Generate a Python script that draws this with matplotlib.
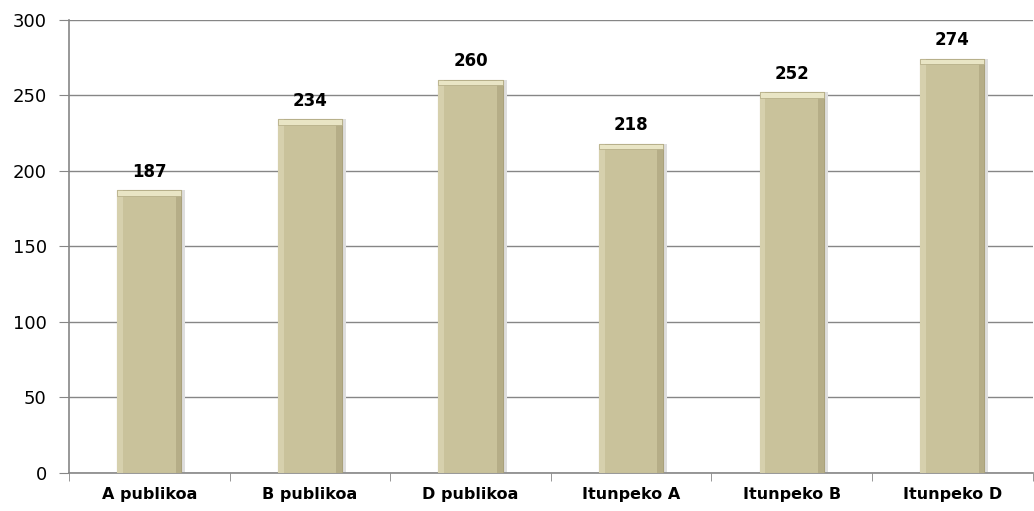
import matplotlib.pyplot as plt
import numpy as np

categories = ['A publikoa', 'B publikoa', 'D publikoa', 'Itunpeko A', 'Itunpeko B', 'Itunpeko D']
values = [187, 234, 260, 218, 252, 274]

fig = plt.figure(figsize=(10.34, 5.11), dpi=100)
ax = fig.add_axes([0.0667, 0.0744, 0.932, 0.887])

x = np.arange(len(categories))
w = 0.40

# soft shadow behind the bars
ax.bar(x + 0.025, values, width=w, color='#dedede', zorder=2)
# main bars
ax.bar(x, values, width=w, color='#c9c29b', edgecolor='#a9a17b', linewidth=0.8, zorder=3)
# side strips for a bevel look
ax.bar(x - w / 2 + 0.018, values, width=0.036, color='#d6d0ad', zorder=4)
ax.bar(x + w / 2 - 0.018, values, width=0.036, color='#b5ad87', zorder=4)
# top cap
ax.bar(x, [3.5] * len(values), bottom=np.array(values) - 3.5, width=w, color='#e9e5c5',
       edgecolor='#b0a882', linewidth=0.5, zorder=5)

for xi, v in zip(x, values):
    ax.annotate(str(v), (xi, v), xytext=(0, 7), textcoords='offset points',
                ha='center', va='bottom', fontsize=12, fontweight='bold',
                family='DejaVu Sans', zorder=6)

ax.set_ylim(0, 300)
ax.set_yticks(range(0, 301, 50))
ax.set_xlim(-0.5, len(categories) - 0.5)
ax.set_xticks(x)
ax.set_xticklabels(categories, fontsize=11.5, fontweight='bold', family='DejaVu Sans')
ax.set_xticks(np.arange(-0.5, len(categories), 1), minor=True)
ax.tick_params(axis='x', which='major', length=0, pad=10)
ax.tick_params(axis='x', which='minor', length=6, color='#868686', direction='out')
ax.tick_params(axis='y', length=7, color='#868686', labelsize=13, pad=9)

ax.yaxis.grid(True, color='#868686', linewidth=1)
ax.set_axisbelow(True)
for s in ['top', 'right']:
    ax.spines[s].set_visible(False)
for s in ['left', 'bottom']:
    ax.spines[s].set_color('#868686')
    ax.spines[s].set_linewidth(1.2)

fig.savefig('out.png', dpi=100, facecolor='white')
